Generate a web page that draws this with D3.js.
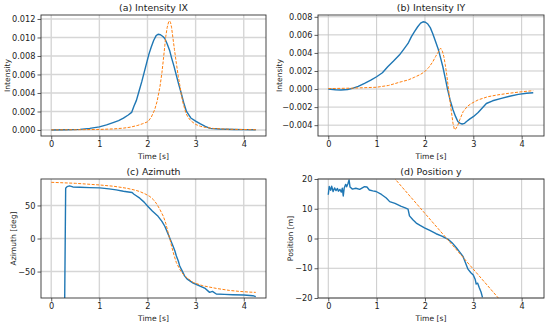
<!DOCTYPE html>
<html>
<head>
<meta charset="utf-8">
<script src="https://cdn.jsdelivr.net/npm/d3@7"></script>
<style>
  body { margin: 0; background: #fff; }
  svg text { font-family: "DejaVu Sans", sans-serif; fill: #222; }
</style>
</head>
<body>
<div id="chart"></div>
<script>
var svgWidth = 550;
var svgHeight = 327;

// time ticks shared by all panels
var timeTicks = [0, 1, 2, 3, 4];

// (a) Intensity IX
var ixMeasTime = [0, 0.3, 0.6, 0.8, 1.0, 1.15, 1.3, 1.4, 1.5, 1.6, 1.67, 1.72, 1.77, 1.83, 1.88, 1.93, 1.98, 2.03, 2.08, 2.13, 2.18, 2.22, 2.27, 2.32, 2.36, 2.41, 2.46, 2.5, 2.55, 2.6, 2.65, 2.7, 2.75, 2.81, 2.9, 3.0, 3.1, 3.2, 3.3, 3.5, 3.8, 4.0, 4.25];
var ixMeasVals = [0, 0.00002, 0.00007, 0.00018, 0.00034, 0.00055, 0.00083, 0.00102, 0.00128, 0.00162, 0.0019, 0.0026, 0.0032, 0.0043, 0.0052, 0.0062, 0.0072, 0.0082, 0.0090, 0.0097, 0.0102, 0.01035, 0.0103, 0.0101, 0.0099, 0.0093, 0.0086, 0.0078, 0.0069, 0.0059, 0.0049, 0.0040, 0.0030, 0.0020, 0.0013, 0.00095, 0.00065, 0.00038, 0.00017, 0.0001, 0.00006, 0.00004, 0.00003];
var ixModelTime = [0, 0.5, 1.0, 1.3, 1.5, 1.64, 1.8, 1.9, 2.01, 2.08, 2.15, 2.2, 2.26, 2.3, 2.33, 2.36, 2.38, 2.41, 2.44, 2.46, 2.48, 2.5, 2.53, 2.56, 2.6, 2.64, 2.67, 2.7, 2.74, 2.8, 2.84, 2.9, 3.0, 3.1, 3.2, 3.4, 3.7, 4.0, 4.25];
var ixModelVals = [0.00001, 0.00003, 0.00006, 0.00012, 0.0002, 0.0003, 0.0005, 0.00068, 0.0009, 0.0014, 0.0022, 0.0031, 0.0047, 0.0062, 0.0076, 0.0091, 0.0101, 0.0111, 0.0117, 0.0118, 0.0116, 0.0111, 0.0099, 0.0087, 0.0072, 0.0058, 0.0049, 0.0039, 0.0029, 0.0018, 0.0014, 0.0010, 0.0006, 0.0004, 0.00028, 0.00015, 0.00008, 0.00005, 0.00003];

// (b) Intensity IY
var iyMeasTime = [0, 0.15, 0.26, 0.4, 0.5, 0.62, 0.75, 0.88, 1.0, 1.12, 1.23, 1.35, 1.47, 1.56, 1.65, 1.72, 1.78, 1.85, 1.91, 1.96, 2.01, 2.06, 2.11, 2.16, 2.21, 2.27, 2.32, 2.37, 2.42, 2.47, 2.52, 2.58, 2.63, 2.68, 2.73, 2.77, 2.82, 2.86, 2.93, 3.0, 3.1, 3.27, 3.4, 3.58, 3.75, 3.93, 4.1, 4.24];
var iyMeasVals = [0, -0.00008, -0.0001, -0.00005, 0.00007, 0.0003, 0.00063, 0.00098, 0.00136, 0.0018, 0.00247, 0.0031, 0.00376, 0.0044, 0.00505, 0.0058, 0.00634, 0.0069, 0.0073, 0.00745, 0.0074, 0.0072, 0.0068, 0.00616, 0.0054, 0.0045, 0.0035, 0.00247, 0.0012, -0.0001, -0.0012, -0.0023, -0.003, -0.0036, -0.0038, -0.00387, -0.0038, -0.0036, -0.0033, -0.00306, -0.0026, -0.0016, -0.0013, -0.00103, -0.0008, -0.00059, -0.00047, -0.00041];
var iyModelTime = [0, 0.5, 1.0, 1.25, 1.51, 1.65, 1.78, 1.9, 1.99, 2.08, 2.16, 2.22, 2.27, 2.3, 2.33, 2.36, 2.39, 2.42, 2.45, 2.48, 2.51, 2.53, 2.56, 2.58, 2.61, 2.64, 2.68, 2.72, 2.79, 2.88, 2.96, 3.1, 3.3, 3.5, 3.72, 4.0, 4.24];
var iyModelVals = [0.00005, 0.0001, 0.0002, 0.0004, 0.00081, 0.001, 0.0013, 0.0016, 0.0019, 0.0024, 0.003, 0.0036, 0.00405, 0.0044, 0.0045, 0.0042, 0.0036, 0.0027, 0.0016, 0.0003, -0.001, -0.0019, -0.003, -0.0038, -0.0045, -0.0044, -0.004, -0.0034, -0.0025, -0.0019, -0.0016, -0.0012, -0.00085, -0.00065, -0.00048, -0.0003, -0.00018];

// (c) Azimuth
var azMeasTime = [0.28, 0.3, 0.33, 0.38, 0.45, 0.6, 0.8, 1.01, 1.2, 1.35, 1.5, 1.64, 1.68, 1.72, 1.84, 1.93, 2.01, 2.1, 2.22, 2.3, 2.36, 2.41, 2.46, 2.5, 2.53, 2.57, 2.6, 2.64, 2.67, 2.72, 2.77, 2.82, 2.88, 2.95, 3.08, 3.2, 3.29, 3.35, 3.43, 3.6, 3.77, 4.0, 4.19, 4.25];
var azMeasVals = [-90, 76, 78.5, 79.5, 78, 77.5, 77, 76.5, 75, 73.5, 71.5, 70, 69.5, 67, 61, 55, 48.5, 41.5, 33.5, 26, 18.5, 10, 1, -6, -11.5, -19, -26.5, -34, -41.5, -49, -56.5, -61, -64, -67.5, -71.5, -75.5, -81.5, -80, -84, -84.5, -85, -85.5, -86.5, -88];
var azModelTime = [0, 0.5, 1.0, 1.3, 1.57, 1.75, 1.84, 1.95, 2.05, 2.12, 2.18, 2.25, 2.33, 2.38, 2.43, 2.47, 2.5, 2.55, 2.6, 2.67, 2.74, 2.83, 2.95, 3.15, 3.43, 3.7, 3.91, 4.1, 4.25];
var azModelVals = [85, 83.5, 81, 79, 76, 73, 71, 67.5, 63.5, 59, 53.5, 45, 33.5, 23, 8.5, -2, -11.5, -25, -36.5, -46.5, -54, -60, -66.5, -71.5, -75.5, -78.5, -80, -81, -81.5];

// (d) Position y
var posMeasTime = [0, 0.02, 0.05, 0.07, 0.1, 0.13, 0.16, 0.19, 0.21, 0.24, 0.27, 0.29, 0.31, 0.33, 0.36, 0.38, 0.41, 0.43, 0.45, 0.5, 0.57, 0.65, 0.75, 0.8, 0.85, 0.92, 0.99, 1.1, 1.2, 1.27, 1.38, 1.51, 1.58, 1.65, 1.68, 1.75, 1.82, 1.9, 1.99, 2.1, 2.23, 2.35, 2.48, 2.56, 2.65, 2.72, 2.79, 2.84, 2.89, 2.95, 3.0, 3.04, 3.06, 3.09, 3.12, 3.16, 3.19];
var posMeasVals = [14.7, 17.5, 16.2, 17.6, 15.8, 17.0, 16.1, 16.8, 15.9, 16.5, 15.6, 16.9, 14.3, 17.0, 18.2, 17.4, 18.6, 19.7, 17.3, 16.6, 16.9, 16.5, 17.4, 17.3, 16.3, 16.0, 15.8, 14.8, 13.6, 12.4, 11.8, 10.8, 10.4, 9.9, 7.6, 6.3, 5.2, 4.4, 3.6, 2.7, 1.6, 0.8, -0.3, -1.4, -3.1, -4.6, -6.1, -8.2, -10.3, -11.5, -12.3, -13.8, -15.3, -15.0, -16.4, -18.0, -19.8];
var posModelTime = [1.35, 3.55];
var posModelVals = [20.6, -20.6];

var panels = [
    {title: "(a) Intensity IX", ylabel: "Intensity", left: 41, right: 266, top: 15, bottom: 136,
     yDomain: [-0.00065, 0.01243], yTicks: [0, 0.002, 0.004, 0.006, 0.008, 0.010, 0.012], fmt: d3.format(".3f"),
     labelX: 7, grid: "#d6d6d6", gridW: 1.4,
     meas: [ixMeasTime, ixMeasVals], model: [ixModelTime, ixModelVals]},
    {title: "(b) Intensity IY", ylabel: "Intensity", left: 318, right: 544, top: 15, bottom: 136,
     yDomain: [-0.0052, 0.0082], yTicks: [-0.004, -0.002, 0, 0.002, 0.004, 0.006, 0.008], fmt: d3.format(".3f"),
     labelX: 279, grid: "#c4c4c4", gridW: 0.9,
     meas: [iyMeasTime, iyMeasVals], model: [iyModelTime, iyModelVals]},
    {title: "(c) Azimuth", ylabel: "Azimuth [deg]", left: 41, right: 266, top: 179, bottom: 298,
     yDomain: [-90, 90], yTicks: [-50, 0, 50], fmt: d3.format("d"),
     labelX: 13, grid: "#d6d6d6", gridW: 1.4,
     meas: [azMeasTime, azMeasVals], model: [azModelTime, azModelVals]},
    {title: "(d) Position y", ylabel: "Position [m]", left: 318, right: 544, top: 179, bottom: 298,
     yDomain: [-20, 20], yTicks: [-20, -10, 0, 10, 20], fmt: d3.format("d"),
     labelX: 290, grid: "#c4c4c4", gridW: 0.9,
     meas: [posMeasTime, posMeasVals], model: [posModelTime, posModelVals]}
];

var svg = d3.select("#chart").append("svg")
    .attr("width", svgWidth)
    .attr("height", svgHeight);

function minusSign(s) {
    return s.replace("-", "\u2212");
}

panels.forEach(function(p, i) {
    var xScale = d3.scaleLinear().domain([-0.2125, 4.4625]).range([p.left, p.right]);
    var yScale = d3.scaleLinear().domain(p.yDomain).range([p.bottom, p.top]);
    var g = svg.append("g");

    svg.append("clipPath").attr("id", "clip" + i)
        .append("rect")
        .attr("x", p.left).attr("y", p.top)
        .attr("width", p.right - p.left).attr("height", p.bottom - p.top);

    // grid
    g.selectAll(".vgrid").data(timeTicks).enter().append("line")
        .attr("x1", d => xScale(d)).attr("x2", d => xScale(d))
        .attr("y1", p.top).attr("y2", p.bottom)
        .attr("stroke", p.grid).attr("stroke-width", p.gridW);
    g.selectAll(".hgrid").data(p.yTicks).enter().append("line")
        .attr("x1", p.left).attr("x2", p.right)
        .attr("y1", d => yScale(d)).attr("y2", d => yScale(d))
        .attr("stroke", p.grid).attr("stroke-width", p.gridW);

    // axes
    var bottomAxis = d3.axisBottom(xScale).tickValues(timeTicks).tickFormat(d3.format("d")).tickSize(3.5).tickPadding(2);
    var leftAxis = d3.axisLeft(yScale).tickValues(p.yTicks).tickFormat(d => minusSign(p.fmt(d))).tickSize(3.5).tickPadding(2);

    var xAxis = g.append("g").attr("transform", `translate(0, ${p.bottom})`).call(bottomAxis);
    var yAxis = g.append("g").attr("transform", `translate(${p.left}, 0)`).call(leftAxis);
    [xAxis, yAxis].forEach(function(ax) {
        ax.select(".domain").remove();
        ax.selectAll("line").attr("stroke", "#333").attr("stroke-width", 0.8);
        ax.selectAll("text").attr("font-size", "8.2px").style("font-family", "DejaVu Sans, sans-serif").attr("fill", "#222");
    });

    // lines
    var line = d3.line().x(d => xScale(d[0])).y(d => yScale(d[1]));
    var model = d3.zip(p.model[0], p.model[1]);
    var meas = d3.zip(p.meas[0], p.meas[1]);

    g.append("path").datum(meas)
        .attr("clip-path", `url(#clip${i})`)
        .attr("d", line)
        .attr("fill", "none")
        .attr("stroke", "#1f77b4")
        .attr("stroke-width", 1.4)
        .attr("stroke-linejoin", "round");

    g.append("path").datum(model)
        .attr("clip-path", `url(#clip${i})`)
        .attr("d", line)
        .attr("fill", "none")
        .attr("stroke", "#ff7f0e")
        .attr("stroke-width", 1.0)
        .attr("stroke-dasharray", "3,1.5");

    // frame
    g.append("rect")
        .attr("x", p.left).attr("y", p.top)
        .attr("width", p.right - p.left).attr("height", p.bottom - p.top)
        .attr("fill", "none").attr("stroke", "#333").attr("stroke-width", 0.9);

    // titles and labels
    g.append("text")
        .attr("x", (p.left + p.right) / 2).attr("y", p.top - 4)
        .attr("text-anchor", "middle").attr("font-size", "9.4px")
        .text(p.title);

    g.append("text")
        .attr("x", (p.left + p.right) / 2).attr("y", p.bottom + 22.5)
        .attr("text-anchor", "middle").attr("font-size", "7.6px")
        .text("Time [s]");

    g.append("text")
        .attr("transform", `translate(${p.labelX}, ${(p.top + p.bottom) / 2}) rotate(-90)`)
        .attr("text-anchor", "middle").attr("dy", "0.35em").attr("font-size", "7.6px")
        .text(p.ylabel);
});
</script>
</body>
</html>
